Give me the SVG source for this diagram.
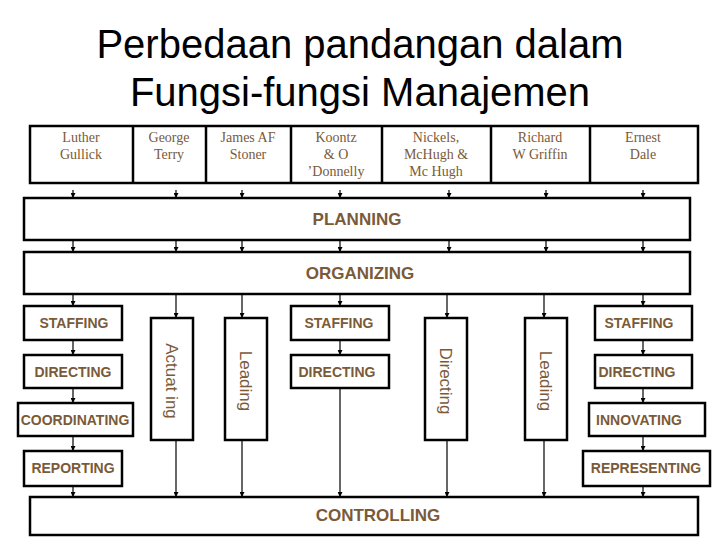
<svg xmlns="http://www.w3.org/2000/svg" width="720" height="540" viewBox="0 0 720 540">
<style>
.b{fill:#fff;stroke:#000;stroke-width:2.5}
.h{font-family:"Liberation Serif",serif;font-size:14px;fill:#7a5a38;text-anchor:middle}
.t{font-family:"Liberation Sans",Arial,sans-serif;font-size:14px;fill:#7a5a38;text-anchor:middle;font-weight:bold}
.t.big{font-size:17px}
.v{font-family:"Liberation Sans",Arial,sans-serif;font-size:17px;fill:#7a5a38;text-anchor:middle}
.c line{stroke:#000;stroke-width:1.2;marker-end:url(#a)}
</style>
<defs><marker id="a" markerWidth="5" markerHeight="5" refX="4" refY="2.5" orient="auto" markerUnits="userSpaceOnUse"><path d="M0,0L5,2.5L0,5z" fill="#000"/></marker></defs>
<rect width="720" height="540" fill="#fff"/>
<g id="title" font-family="Liberation Sans,Arial,sans-serif" font-size="40" fill="#000" text-anchor="middle"><text x="360" y="58">Perbedaan pandangan dalam</text><text x="360" y="106">Fungsi-fungsi Manajemen</text></g>
<g id="headers">
<rect class="b" x="30" y="126" width="668" height="57"/>
<g stroke="#000" stroke-width="2.5"><line x1="133" y1="126" x2="133" y2="183"/><line x1="206" y1="126" x2="206" y2="183"/><line x1="291" y1="126" x2="291" y2="183"/><line x1="382" y1="126" x2="382" y2="183"/><line x1="491" y1="126" x2="491" y2="183"/><line x1="590" y1="126" x2="590" y2="183"/></g>
<text class="h" x="81" y="142">Luther</text><text class="h" x="81" y="159">Gullick</text>
<text class="h" x="169" y="142">George</text><text class="h" x="169" y="159">Terry</text>
<text class="h" x="248" y="142">James AF</text><text class="h" x="248" y="159">Stoner</text>
<text class="h" x="336" y="142">Koontz</text><text class="h" x="336" y="159">&amp; O</text><text class="h" x="336" y="176">’Donnelly</text>
<text class="h" x="436" y="142">Nickels,</text><text class="h" x="436" y="159">McHugh &amp;</text><text class="h" x="436" y="176">Mc Hugh</text>
<text class="h" x="540" y="142">Richard</text><text class="h" x="540" y="159">W Griffin</text>
<text class="h" x="643" y="142">Ernest</text><text class="h" x="643" y="159">Dale</text>
</g>
<g id="planning"><rect class="b" x="24" y="198" width="666" height="42"/><text class="t big" x="357" y="225">PLANNING</text></g>
<g id="organizing"><rect class="b" x="24" y="252" width="666" height="42"/><text class="t big" x="360" y="279">ORGANIZING</text></g>
<g id="controlling"><rect class="b" x="30" y="497" width="668" height="38"/><text class="t big" x="378" y="521">CONTROLLING</text></g>
<g id="l1"><rect class="b" x="24" y="306" width="98" height="34"/><text class="t" x="74" y="328">STAFFING</text></g>
<g id="l2"><rect class="b" x="24" y="355" width="98" height="33"/><text class="t" x="73" y="377">DIRECTING</text></g>
<g id="l3"><rect class="b" x="18" y="403" width="115" height="33"/><text class="t" x="75" y="425">COORDINATING</text></g>
<g id="l4"><rect class="b" x="24" y="451" width="98" height="35"/><text class="t" x="73" y="473">REPORTING</text></g>
<g id="m1"><rect class="b" x="291" y="306" width="98" height="34"/><text class="t" x="339" y="328">STAFFING</text></g>
<g id="m2"><rect class="b" x="291" y="355" width="98" height="33"/><text class="t" x="337" y="377">DIRECTING</text></g>
<g id="r1"><rect class="b" x="595" y="306" width="97" height="34"/><text class="t" x="639" y="328">STAFFING</text></g>
<g id="r2"><rect class="b" x="595" y="355" width="97" height="33"/><text class="t" x="637" y="377">DIRECTING</text></g>
<g id="r3"><rect class="b" x="589" y="403" width="116" height="33"/><text class="t" x="639" y="425">INNOVATING</text></g>
<g id="r4"><rect class="b" x="583" y="451" width="127" height="35"/><text class="t" x="646" y="473">REPRESENTING</text></g>
<g id="v1"><rect class="b" x="151" y="318" width="42" height="122"/><text class="v" transform="translate(166,381) rotate(90)">Actuat ing</text></g>
<g id="v2"><rect class="b" x="225" y="318" width="42" height="122"/><text class="v" transform="translate(240,381) rotate(90)">Leading</text></g>
<g id="v3"><rect class="b" x="425" y="318" width="42" height="122"/><text class="v" transform="translate(440,381) rotate(90)">Directing</text></g>
<g id="v4"><rect class="b" x="525" y="318" width="42" height="122"/><text class="v" transform="translate(540,381) rotate(90)">Leading</text></g>
<g id="connectors" class="c">
<line x1="73" y1="190" x2="73" y2="197"/><line x1="176" y1="190" x2="176" y2="197"/><line x1="242" y1="190" x2="242" y2="197"/><line x1="340" y1="190" x2="340" y2="197"/><line x1="449" y1="190" x2="449" y2="197"/><line x1="546" y1="190" x2="546" y2="197"/><line x1="643" y1="190" x2="643" y2="197"/>
<line x1="73" y1="241" x2="73" y2="251"/><line x1="176" y1="241" x2="176" y2="251"/><line x1="242" y1="241" x2="242" y2="251"/><line x1="340" y1="241" x2="340" y2="251"/><line x1="449" y1="241" x2="449" y2="251"/><line x1="546" y1="241" x2="546" y2="251"/><line x1="643" y1="241" x2="643" y2="251"/>
<line x1="73" y1="295" x2="73" y2="305"/><line x1="176" y1="295" x2="176" y2="317"/><line x1="242" y1="295" x2="242" y2="317"/><line x1="340" y1="295" x2="340" y2="305"/><line x1="447" y1="295" x2="447" y2="317"/><line x1="544" y1="295" x2="544" y2="317"/><line x1="643" y1="295" x2="643" y2="305"/>
<line x1="73" y1="341" x2="73" y2="354"/><line x1="73" y1="389" x2="73" y2="402"/><line x1="73" y1="437" x2="73" y2="450"/><line x1="73" y1="487" x2="73" y2="496"/>
<line x1="340" y1="341" x2="340" y2="354"/><line x1="340" y1="389" x2="340" y2="496"/>
<line x1="643" y1="341" x2="643" y2="354"/><line x1="643" y1="389" x2="643" y2="402"/><line x1="643" y1="437" x2="643" y2="450"/><line x1="643" y1="487" x2="643" y2="496"/>
<line x1="176" y1="441" x2="176" y2="496"/><line x1="242" y1="441" x2="242" y2="496"/><line x1="447" y1="441" x2="447" y2="496"/><line x1="544" y1="441" x2="544" y2="496"/>
</g>
</svg>
